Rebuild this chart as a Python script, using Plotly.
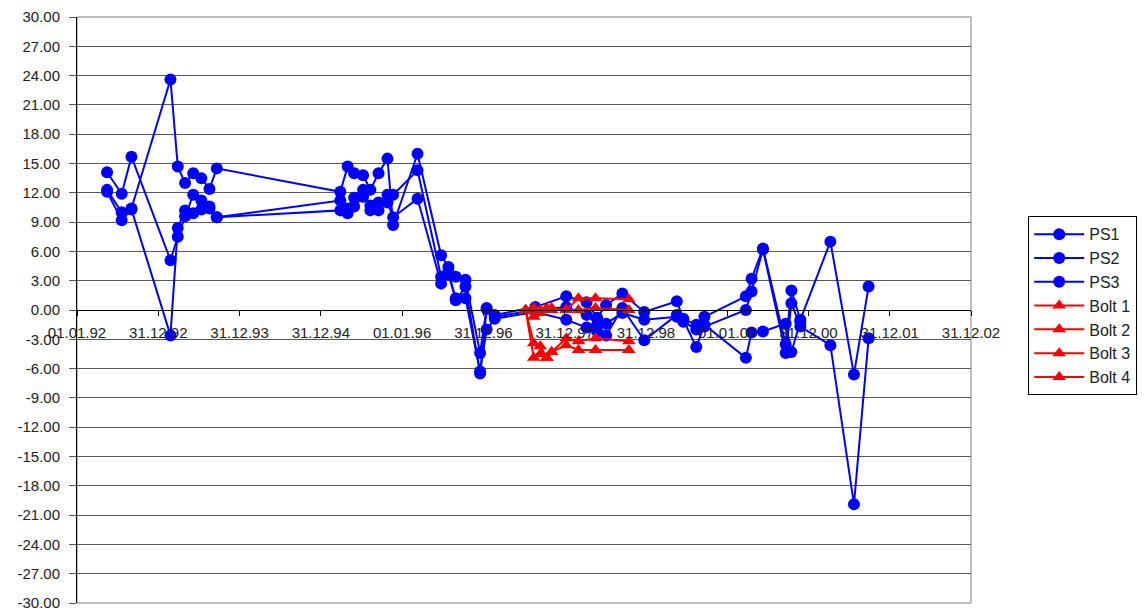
import plotly.graph_objects as go

# ---- data (x in decimal years, y in mm) ----
ps_dates = [1992.37, 1992.55, 1992.67, 1993.15, 1993.24, 1993.33, 1993.43, 1993.53, 1993.63, 1993.72,
            1995.24, 1995.33, 1995.41, 1995.52, 1995.61, 1995.71, 1995.82, 1995.89, 1996.19,
            1996.48, 1996.57, 1996.66, 1996.78, 1996.96, 1997.04, 1997.14,
            1997.64, 1998.02, 1998.27, 1998.40, 1998.51, 1998.71, 1998.98,
            1999.38, 1999.46, 1999.62, 1999.72, 2000.23, 2000.30, 2000.44, 2000.72, 2000.79, 2000.90,
            2001.27, 2001.56, 2001.74]

ps1 = [14.1, 11.9, 15.7, 5.1, 7.5, 9.6, 11.8, 11.2, 10.6, 9.5,
       11.2, 10.4, 10.6, 11.6, 10.7, 11.0, 11.8, 11.8, 14.3,
       3.4, 4.0, 1.0, 2.4, -6.5, 0.1, -0.5,
       0.3, 1.4, 0.8, -0.8, 0.5, 1.7, -0.2,
       0.9, -0.9, -1.5, -0.7, 1.4, 3.2, 6.3, -3.5, 2.0, -1.0,
       7.0, -6.6, 2.4]

ps2 = [12.3, 10.0, 10.4, 23.6, 14.7, 13.0, 14.0, 13.5, 12.4, 14.5,
       12.1, 14.7, 14.0, 13.8, 12.3, 14.0, 15.5, 8.7, 16.0,
       5.6, 4.4, 3.4, 3.1, -4.4, 0.2, -0.7,
       0.0, 0.3, -0.5, -1.5, -1.4, -0.3, -1.0,
       -0.7, -1.2, -2.0, -1.7, 0.0, 1.9, 6.2, -4.4, 0.7, -1.7,
       -3.6, -19.9, -2.9]

ps3 = [12.1, 9.2, 10.3, -2.6, 8.4, 10.2, 9.9, 10.3, 10.4, 9.5,
       10.2, 9.9, 11.5, 12.3, 10.2, 10.2, 11.0, 9.5, 11.4,
       2.7, 3.6, 1.2, 1.2, -6.3, -2.0, -0.9,
       -0.2, -1.0, -1.8, -2.2, -2.6, 0.2, -3.1,
       -0.5, -1.0, -3.8, -1.5, -4.9, -2.3, -2.2, -1.4, -4.3, -1.2,
       None, None, None]

bolt_dates = [1997.52, 1997.62, 1997.70, 1997.78, 1997.84, 1998.02, 1998.17, 1998.38, 1998.79]
bolt1 = [0.0, 0.2, 0.0, 0.0, 0.2, 0.0, 1.2, 1.2, 1.1]
bolt2 = [0.0, -0.7, -0.3, 0.2, 0.0, 0.0, 0.0, 0.2, 0.0]
bolt3 = [0.0, -3.4, -3.7, -4.9, -4.3, -2.9, -3.2, -2.9, -3.2]
bolt4 = [0.0, -4.9, -4.5, -4.9, -4.3, -3.6, -4.1, -4.1, -4.1]

tick_years = [1992, 1993, 1994, 1995, 1996, 1997, 1998, 1999, 2000, 2001, 2002, 2003]
tick_labels = ["01.01.92", "31.12.92", "31.12.93", "31.12.94", "01.01.96", "31.12.96",
               "31.12.97", "31.12.98", "01.01.00", "31.12.00", "31.12.01", "31.12.02"]

y_ticks = list(range(-30, 31, 3))

BLUE = "#0000FF"
RED = "#FF0000"

fig = go.Figure()
for name, vals in [("PS1", ps1), ("PS2", ps2), ("PS3", ps3)]:
    fig.add_trace(go.Scatter(x=ps_dates, y=vals, name=name, mode="lines+markers",
                             line=dict(color=BLUE, width=2),
                             marker=dict(symbol="circle", size=12, color=BLUE),
                             connectgaps=False))
for name, vals in [("Bolt 1", bolt1), ("Bolt 2", bolt2), ("Bolt 3", bolt3), ("Bolt 4", bolt4)]:
    fig.add_trace(go.Scatter(x=bolt_dates, y=vals, name=name, mode="lines+markers",
                             line=dict(color=RED, width=2),
                             marker=dict(symbol="triangle-up", size=12, color=RED)))

FONT = "Liberation Sans, Arial, sans-serif"

fig.update_layout(
    width=1145, height=612,
    margin=dict(l=69, r=182, t=9, b=17, autoexpand=False),
    paper_bgcolor="white", plot_bgcolor="white",
    font=dict(family=FONT, size=15, color="#222222"),
    showlegend=True,
    legend=dict(x=1.064, y=0.66, xanchor="left", yanchor="top",
                bordercolor="#000000", borderwidth=1, bgcolor="white",
                font=dict(family=FONT, size=16, color="#222222"),
                itemwidth=50, tracegroupgap=0),
    shapes=[dict(type="rect", xref="paper", yref="paper", x0=0, x1=1, y0=0, y1=1,
                 line=dict(color="#808080", width=1), layer="below")],
)

fig.update_xaxes(range=[1992, 2003], tickmode="array", tickvals=tick_years, ticktext=tick_labels,
                 anchor="free", position=0.5, showline=True, linecolor="#000000", linewidth=1,
                 ticks="outside", ticklen=5, tickcolor="#000000", showgrid=False, zeroline=False,
                 automargin=False,
                 tickfont=dict(family=FONT, size=15, color="#222222"), ticklabelstandoff=4)

fig.update_yaxes(range=[-30, 30], tickmode="array", tickvals=y_ticks,
                 ticktext=[f"{v:.2f}" for v in y_ticks],
                 showline=True, linecolor="#000000", linewidth=1,
                 ticks="outside", ticklen=7, tickcolor="#555555",
                 showgrid=True, gridcolor="#5a5a5a", gridwidth=1, zeroline=False,
                 automargin=False, ticklabelstandoff=6,
                 tickfont=dict(family=FONT, size=15, color="#222222"))

fig.write_html("out.html")
